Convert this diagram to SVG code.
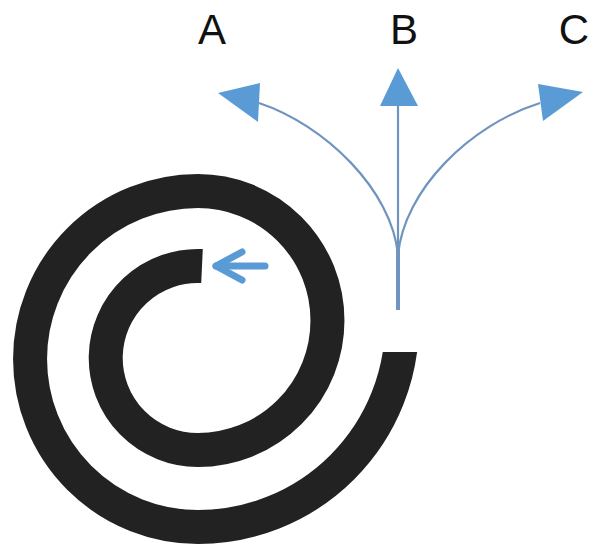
<svg xmlns="http://www.w3.org/2000/svg" width="590" height="548" viewBox="0 0 590 548">
<style>
.lbl{font-family:"Liberation Sans",Arial,sans-serif;font-size:42px;fill:#111;text-anchor:middle}
.ln{fill:none;stroke:#6f95bf;stroke-width:2.2}
.hd{fill:#5b9bd5;stroke:none}
.ring{fill:none;stroke:#222;stroke-width:34}
</style>
<defs>
<clipPath id="cutEnd"><rect x="0" y="352" width="590" height="196"/></clipPath>
</defs>
<rect width="590" height="548" fill="#fff"/>
<g id="spiral">
<path class="ring" d="M 202 266.1 A 92 92 0 1 0 198 450 A 129.5 129.5 0 0 0 198 191 A 168 168 0 0 0 198 527"/>
<path class="ring" clip-path="url(#cutEnd)" d="M 198 527 A 204 204 0 0 0 402 323"/>
</g>
<g id="labels">
<text class="lbl" x="212" y="44">A</text>
<text class="lbl" x="404" y="44">B</text>
<text class="lbl" x="574" y="44">C</text>
</g>
<g id="connectors">
<path class="ln" d="M 398 255 C 392 190 325 125 259 103"/>
<path class="ln" d="M 398 255 C 404 190 470 125 540 103"/>
<path class="ln" d="M 398 255 L 398 104"/>
<path d="M 398 250 L 398 310" stroke="#6f95bf" stroke-width="4" fill="none"/>
<polygon class="hd" points="218,93 260,83 258,122"/>
<polygon class="hd" points="398,68 380,106 418,106"/>
<polygon class="hd" points="583,92 538,84 543,121"/>
<g id="small-arrow" fill="none" stroke="#5b9bd5" stroke-width="7" stroke-linecap="round" stroke-linejoin="round">
<polyline points="242,252 216,266 242,280"/>
<line x1="216" y1="266" x2="265" y2="266"/>
</g>
</g>
</svg>
